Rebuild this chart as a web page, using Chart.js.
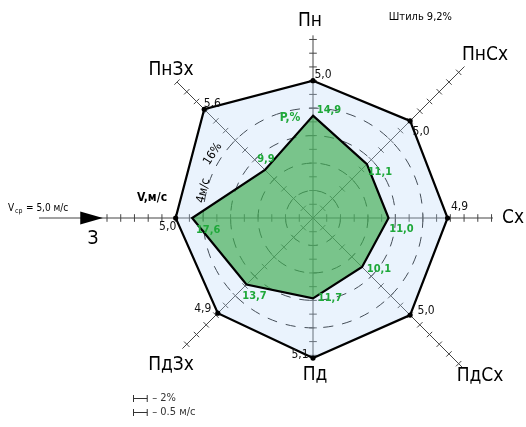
<!DOCTYPE html>
<html>
<head>
<meta charset="utf-8">
<script src="https://cdn.jsdelivr.net/npm/chart.js@4.4.1/dist/chart.umd.min.js"></script>
<style>
  html, body { margin: 0; padding: 0; background: #fff; }
  #wrap { width: 526px; height: 427px; position: relative; }
</style>
</head>
<body>
<div id="wrap"><canvas id="rose" width="526" height="427"></canvas></div>
<script>
// Wind rose: repeatability of wind directions (P, %) and mean speed by direction (V, m/s)
const directions   = ['Пн', 'ПнСх', 'Сх', 'ПдСх', 'Пд', 'ПдЗх', 'З', 'ПнЗх'];
const frequencyPct = [14.9, 11.1, 11.0, 10.1, 11.7, 13.7, 17.6, 9.9];
const speedMs      = [5.0, 5.0, 4.9, 5.0, 5.1, 4.9, 5.0, 5.6];
const calmPct      = 9.2;
const meanSpeedMs  = 5.0;
const ringValuesPct = [4, 8, 12, 16];

// one scale division stands for 2 % of repeatability or 0.5 m/s of speed
const divisionPct = 2;
const divisionMs  = 0.5;
const pctPerMs = divisionPct / divisionMs;

const fmt = v => v.toFixed(1).replace('.', ',');

// axis geometry (in % units along each direction)
const axisReach = [26.6, 31.2, 26.2, 30.7, 20.4, 26.9, 39.9, 28.0];
const tickReach = [26, 30, 26, 30, 20, 26, 30, 28];

// label offsets from the points they describe (px)
const dirLabelOffset = [[-3,-197],[172,-163],[200,0],[167,158],[2,157],[-142,147],[-220,21],[-142,-148]];
const speedLabelOffset = [[10,-6],[11,11],[12,-11],[16,-4],[-13,-3],[-15,-4],[-8,9],[8,-5]];
const freqLabelOffset  = [[16,-6],[13,8],[13,11],[17,2],[17,0],[8,12],[16,12],[1,-11]];

const FONT = '"DejaVu Sans Condensed", "DejaVu Sans", sans-serif';
const GREEN_TEXT = '#1fa83a';

const windRose = {
  id: 'windRose',
  beforeDatasetsDraw(chart) {
    const s = chart.scales.r;
    const ctx = chart.ctx;
    const px = v => s.getDistanceFromCenterForValue(v);
    ctx.save();
    ctx.strokeStyle = '#444';
    ctx.lineWidth = 1;
    for (let i = 0; i < directions.length; i++) {
      const end = s.getPointPosition(i, px(axisReach[i]));
      ctx.beginPath();
      ctx.moveTo(s.xCenter, s.yCenter);
      ctx.lineTo(end.x, end.y);
      ctx.stroke();
      for (let t = divisionPct; t <= tickReach[i] + 0.01; t += divisionPct) {
        const p = s.getPointPosition(i, px(t));
        const nx = -Math.sin(p.angle) * 3.8, ny = Math.cos(p.angle) * 3.8;
        ctx.beginPath();
        ctx.moveTo(p.x - nx, p.y - ny);
        ctx.lineTo(p.x + nx, p.y + ny);
        ctx.stroke();
      }
    }
    // wind arrow on the west axis
    const wi = directions.indexOf('З');
    const back = s.getPointPosition(wi, px(33.9));
    const tip = s.getPointPosition(wi, px(30.6));
    const nx = -Math.sin(back.angle) * 6.5, ny = Math.cos(back.angle) * 6.5;
    ctx.fillStyle = '#000';
    ctx.beginPath();
    ctx.moveTo(back.x - nx, back.y - ny);
    ctx.lineTo(back.x + nx, back.y + ny);
    ctx.lineTo(tip.x, tip.y);
    ctx.closePath();
    ctx.fill();
    ctx.restore();
  },
  afterDatasetsDraw(chart) {
    const s = chart.scales.r;
    const ctx = chart.ctx;
    const px = v => s.getDistanceFromCenterForValue(v);
    const cx = s.xCenter, cy = s.yCenter;
    ctx.save();
    ctx.textAlign = 'center';
    ctx.textBaseline = 'middle';

    // direction names
    ctx.fillStyle = '#000';
    ctx.font = '19px ' + FONT;
    directions.forEach((d, i) => {
      ctx.fillText(d, cx + dirLabelOffset[i][0], cy + dirLabelOffset[i][1]);
    });

    // speed values at the outer polygon
    ctx.font = '12px ' + FONT;
    ctx.fillStyle = '#111';
    speedMs.forEach((v, i) => {
      const p = s.getPointPosition(i, px(v * pctPerMs));
      ctx.fillText(fmt(v), p.x + speedLabelOffset[i][0], p.y + speedLabelOffset[i][1]);
    });

    // repeatability values at the inner polygon
    ctx.font = 'bold 11px ' + FONT;
    ctx.fillStyle = GREEN_TEXT;
    frequencyPct.forEach((v, i) => {
      const p = s.getPointPosition(i, px(v));
      ctx.fillText(fmt(v), p.x + freqLabelOffset[i][0], p.y + freqLabelOffset[i][1]);
    });

    // series captions
    ctx.font = 'bold 12px ' + FONT;
    ctx.fillText('P,%', cx - 23, cy - 100);
    ctx.fillStyle = '#000';
    ctx.fillText('V,м/с', cx - 161, cy - 20);

    // ring captions along the 16 % / 4 m/s circle
    ctx.font = '12px ' + FONT;
    const ringR = px(16);
    [['16%', -147.4, 9], ['4м/с', -166.0, 3]].forEach(([txt, deg, off]) => {
      const a = deg * Math.PI / 180;
      const r = ringR + off;
      ctx.save();
      ctx.translate(cx + Math.cos(a) * r, cy + Math.sin(a) * r);
      ctx.rotate(a + Math.PI / 2);
      ctx.fillText(txt, 0, 0);
      ctx.restore();
    });

    // calm and mean speed notes
    ctx.font = '11px ' + FONT;
    ctx.textAlign = 'right';
    ctx.fillText('Штиль ' + fmt(calmPct) + '%', 452, 17);
    ctx.textAlign = 'left';
    ctx.font = '10px ' + FONT;
    ctx.fillText('V', 8, 208);
    ctx.font = '7px ' + FONT;
    ctx.fillText('ср', 15, 211);
    ctx.font = '10px ' + FONT;
    ctx.fillText('= ' + fmt(meanSpeedMs) + ' м/с', 26, 208);

    // scale key
    const seg = px(divisionPct);
    ctx.strokeStyle = '#333';
    ctx.lineWidth = 1;
    [[398, '– ' + divisionPct + '%'], [412, '– ' + divisionMs + ' м/с']].forEach(([y, txt]) => {
      const x0 = 133.5;
      ctx.beginPath();
      ctx.moveTo(x0, y + 0.5); ctx.lineTo(x0 + seg, y + 0.5);
      ctx.moveTo(x0, y - 3); ctx.lineTo(x0, y + 4);
      ctx.moveTo(x0 + seg, y - 3); ctx.lineTo(x0 + seg, y + 4);
      ctx.stroke();
      ctx.fillStyle = '#333';
      ctx.font = '11px ' + FONT;
      ctx.fillText(txt, x0 + seg + 5, y);
    });
    ctx.restore();
  }
};

new Chart(document.getElementById('rose'), {
  type: 'radar',
  data: {
    labels: directions,
    datasets: [
      {
        label: 'P,%',
        data: frequencyPct,
        backgroundColor: 'rgba(62,172,79,0.65)',
        borderColor: '#000',
        borderWidth: 2.2,
        pointRadius: 0,
        fill: true
      },
      {
        label: 'V,м/с',
        data: speedMs.map(v => v * pctPerMs),
        backgroundColor: 'rgba(185,215,248,0.3)',
        borderColor: '#000',
        borderWidth: 2.2,
        pointRadius: 2.6,
        pointBorderWidth: 0,
        pointBackgroundColor: '#000',
        fill: true
      }
    ]
  },
  options: {
    responsive: false,
    animation: false,
    devicePixelRatio: 1,
    layout: { padding: { left: 107, right: 7, top: 12, bottom: 3 } },
    elements: { line: { tension: 0, borderJoinStyle: 'miter' } },
    plugins: { legend: { display: false }, tooltip: { enabled: false } },
    scales: {
      r: {
        min: 0,
        max: 30,
        ticks: { display: false, stepSize: 4 },
        pointLabels: { display: false },
        angleLines: { display: false },
        grid: {
          circular: true,
          lineWidth: 1,
          color: c => (c.tick && ringValuesPct.includes(c.tick.value)) ? '#111' : 'rgba(0,0,0,0)'
        },
        border: { dash: [10, 9] }
      }
    }
  },
  plugins: [windRose]
});
</script>
</body>
</html>
